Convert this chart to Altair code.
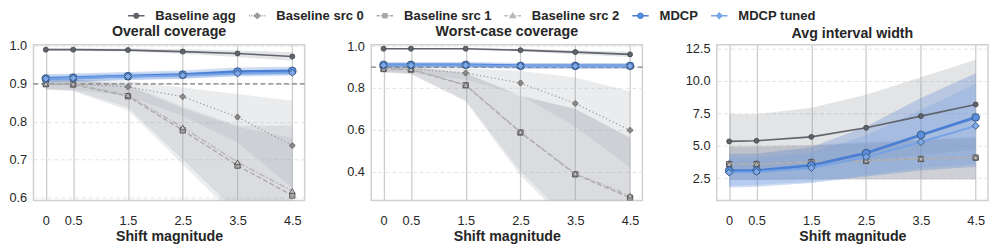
import altair as alt
import pandas as pd

# ---------------- data ----------------
X = [0, 0.5, 1.5, 2.5, 3.5, 4.5]
SERIES = ["Baseline agg", "Baseline src 0", "Baseline src 1", "Baseline src 2", "MDCP", "MDCP tuned"]
PANELS = ["Overall coverage", "Worst-case coverage", "Avg interval width"]
TARGET = [0.9]

overall_mean = {
    "Baseline agg":   [0.990, 0.990, 0.989, 0.985, 0.980, 0.972],
    "Baseline src 0": [0.900, 0.899, 0.892, 0.866, 0.812, 0.737],
    "Baseline src 1": [0.899, 0.898, 0.867, 0.777, 0.684, 0.605],
    "Baseline src 2": [0.900, 0.900, 0.870, 0.785, 0.693, 0.617],
    "MDCP":           [0.914, 0.916, 0.920, 0.924, 0.932, 0.934],
    "MDCP tuned":     [0.913, 0.915, 0.919, 0.922, 0.927, 0.929],
}
overall_lo = {
    "Baseline agg":   [0.987, 0.987, 0.985, 0.979, 0.971, 0.961],
    "Baseline src 0": [0.886, 0.884, 0.868, 0.815, 0.745, 0.625],
    "Baseline src 1": [0.884, 0.880, 0.830, 0.687, 0.545, 0.430],
    "Baseline src 2": [0.886, 0.882, 0.838, 0.700, 0.560, 0.450],
    "MDCP":           [0.903, 0.905, 0.909, 0.913, 0.921, 0.923],
    "MDCP tuned":     [0.905, 0.907, 0.911, 0.914, 0.919, 0.921],
}
overall_hi = {
    "Baseline agg":   [0.993, 0.993, 0.993, 0.991, 0.988, 0.983],
    "Baseline src 0": [0.912, 0.912, 0.906, 0.890, 0.873, 0.855],
    "Baseline src 1": [0.912, 0.912, 0.895, 0.835, 0.786, 0.757],
    "Baseline src 2": [0.913, 0.913, 0.898, 0.840, 0.790, 0.790],
    "MDCP":           [0.925, 0.927, 0.931, 0.935, 0.943, 0.945],
    "MDCP tuned":     [0.921, 0.923, 0.927, 0.930, 0.935, 0.937],
}

worst_mean = {
    "Baseline agg":   [0.988, 0.988, 0.988, 0.981, 0.972, 0.961],
    "Baseline src 0": [0.894, 0.891, 0.872, 0.824, 0.726, 0.598],
    "Baseline src 1": [0.891, 0.888, 0.813, 0.587, 0.387, 0.275],
    "Baseline src 2": [0.893, 0.890, 0.815, 0.590, 0.390, 0.285],
    "MDCP":           [0.911, 0.911, 0.911, 0.906, 0.906, 0.906],
    "MDCP tuned":     [0.909, 0.909, 0.909, 0.905, 0.905, 0.905],
}
worst_lo = {
    "Baseline agg":   [0.985, 0.985, 0.984, 0.975, 0.962, 0.948],
    "Baseline src 0": [0.878, 0.872, 0.840, 0.765, 0.615, 0.420],
    "Baseline src 1": [0.874, 0.866, 0.735, 0.380, 0.120, 0.000],
    "Baseline src 2": [0.876, 0.868, 0.740, 0.400, 0.140, 0.020],
    "MDCP":           [0.897, 0.897, 0.897, 0.892, 0.892, 0.892],
    "MDCP tuned":     [0.898, 0.898, 0.898, 0.894, 0.894, 0.894],
}
worst_hi = {
    "Baseline agg":   [0.991, 0.991, 0.992, 0.987, 0.981, 0.973],
    "Baseline src 0": [0.907, 0.905, 0.895, 0.882, 0.850, 0.785],
    "Baseline src 1": [0.905, 0.902, 0.870, 0.760, 0.700, 0.565],
    "Baseline src 2": [0.906, 0.903, 0.872, 0.765, 0.700, 0.560],
    "MDCP":           [0.925, 0.925, 0.925, 0.920, 0.920, 0.920],
    "MDCP tuned":     [0.920, 0.920, 0.920, 0.916, 0.916, 0.916],
}

width_mean = {
    "Baseline agg":   [5.35, 5.40, 5.70, 6.40, 7.30, 8.20],
    "Baseline src 0": [3.65, 3.65, 3.80, 3.90, 4.00, 4.10],
    "Baseline src 1": [3.60, 3.60, 3.75, 3.85, 4.00, 4.10],
    "Baseline src 2": [3.62, 3.62, 3.78, 3.88, 4.02, 4.12],
    "MDCP":           [3.10, 3.10, 3.50, 4.45, 5.85, 7.20],
    "MDCP tuned":     [2.95, 3.00, 3.30, 4.15, 5.30, 6.55],
}
width_lo = {
    "Baseline agg":   [3.20, 3.25, 3.50, 3.90, 4.30, 4.70],
    "Baseline src 0": [2.40, 2.40, 2.45, 2.45, 2.45, 2.45],
    "Baseline src 1": [2.35, 2.35, 2.40, 2.40, 2.40, 2.40],
    "Baseline src 2": [2.38, 2.38, 2.42, 2.42, 2.42, 2.42],
    "MDCP":           [1.80, 1.85, 2.15, 2.65, 3.10, 3.40],
    "MDCP tuned":     [1.95, 2.00, 2.25, 2.75, 3.30, 3.60],
}
width_hi = {
    "Baseline agg":   [7.45, 7.45, 7.95, 8.95, 10.30, 11.65],
    "Baseline src 0": [5.00, 5.00, 5.10, 5.30, 5.50, 5.70],
    "Baseline src 1": [4.90, 4.90, 5.00, 5.20, 5.40, 5.60],
    "Baseline src 2": [4.95, 4.95, 5.05, 5.25, 5.45, 5.65],
    "MDCP":           [4.40, 4.40, 4.90, 6.50, 8.70, 10.60],
    "MDCP tuned":     [4.10, 4.10, 4.50, 5.80, 7.80, 9.80],
}

PANEL_DATA = {
    "Overall coverage": (overall_mean, overall_lo, overall_hi),
    "Worst-case coverage": (worst_mean, worst_lo, worst_hi),
    "Avg interval width": (width_mean, width_lo, width_hi),
}
Y_TICKS = {
    "Overall coverage": [0.6, 0.7, 0.8, 0.9, 1.0],
    "Worst-case coverage": [0.4, 0.6, 0.8, 1.0],
    "Avg interval width": [2.5, 5.0, 7.5, 10.0, 12.5],
}

# ---------------- styles ----------------
FONT = "Liberation Sans"
TXT = "#262626"
Y_DOMAIN = {
    "Overall coverage": [0.592, 1.003],
    "Worst-case coverage": [0.262, 1.007],
    "Avg interval width": [0.8, 12.8],
}
X_DOMAIN = [-0.225, 4.725]
STYLE = {
    "Baseline agg":   dict(line="#60646c", dash=None, lw=1.7, shape="circle", size=26, fill="#5f636b", edge="#3f4247", band="#80858d", bop=0.22),
    "Baseline src 0": dict(line="#9a9a9a", dash=[1.2, 2.6], lw=1.3, shape="cross", size=26, fill="#8e8e8e", edge="#6a6a6a", band="#9ba0a8", bop=0.20),
    "Baseline src 1": dict(line="#a9a9a9", dash=[5, 2.5], lw=1.3, shape="square", size=30, fill="#a5a5a5", edge="#4a4a4a", band="#9ba0a8", bop=0.20),
    "Baseline src 2": dict(line="#b4b4b4", dash=[6, 2, 1.5, 2], lw=1.3, shape="triangle-up", size=30, fill="#c4c4c4", edge="#4a4a4a", band="#9ba0a8", bop=0.20),
    "MDCP":           dict(line="#4a7fd3", dash=None, lw=2.8, shape="circle", size=62, fill="#5b8fdb", edge="#2c4a72", band="#4a7fd3", bop=0.28),
    "MDCP tuned":     dict(line="#76a3e6", dash=None, lw=2.0, shape="diamond", size=52, fill="#7fa9e8", edge="#2c4a72", band="#6f9ee2", bop=0.25),
}
# legend glyphs: line segment (+ dash pattern) with the marker in the middle, box is [-1, 1]
LEGEND_PATH = {
    "Baseline agg": "M-1.2,0L-0.34,0M0.34,0L1.2,0M0.34,0A0.34,0.34 0 1,1 -0.34,0A0.34,0.34 0 1,1 0.34,0Z",
    "Baseline src 0": "M-1.2,0L-1.06,0M-0.86,0L-0.72,0M-0.54,0L-0.4,0M0.4,0L0.54,0M0.72,0L0.86,0M1.06,0L1.2,0"
                      "M-0.11,-0.34L0.11,-0.34L0.11,-0.11L0.34,-0.11L0.34,0.11L0.11,0.11L0.11,0.34L-0.11,0.34L-0.11,0.11L-0.34,0.11L-0.34,-0.11L-0.11,-0.11Z",
    "Baseline src 1": "M-1.2,0L-0.76,0M-0.58,0L-0.32,0M0.32,0L0.58,0M0.76,0L1.2,0M-0.28,-0.28L0.28,-0.28L0.28,0.28L-0.28,0.28Z",
    "Baseline src 2": "M-1.2,0L-0.8,0M-0.64,0L-0.57,0M-0.44,0L-0.34,0M0.34,0L0.44,0M0.57,0L0.64,0M0.8,0L1.2,0M0,-0.34L0.34,0.26L-0.34,0.26Z",
    "MDCP": "M-1.2,0L-0.38,0M0.38,0L1.2,0M0.38,0A0.38,0.38 0 1,1 -0.38,0A0.38,0.38 0 1,1 0.38,0Z",
    "MDCP tuned": "M-1.2,0L-0.38,0M0.38,0L1.2,0M0,-0.4L0.38,0L0,0.4L-0.38,0Z",
}

rows = []
for pname, (m, lo, hi) in PANEL_DATA.items():
    for s in SERIES:
        for i, xv in enumerate(X):
            rows.append(dict(panel=pname, series=s, x=xv, mean=m[s][i], lo=lo[s][i], hi=hi[s][i]))
df = pd.DataFrame(rows)
leg_df = pd.DataFrame({"series": SERIES})

x_enc = alt.X(
    "x:Q",
    scale=alt.Scale(domain=X_DOMAIN, nice=False, zero=False),
    axis=alt.Axis(values=X, title="Shift magnitude",
                  labelExpr="datum.value == 0 ? '0' : format(datum.value, '.1f')"),
)


def make_panel(pname, with_legend=False):
    d = df[df.panel == pname]
    ysc = alt.Scale(domain=Y_DOMAIN[pname], nice=False, zero=False)
    yax = alt.Axis(values=Y_TICKS[pname], format=".1f", title=None)
    layers = []
    for s in SERIES:
        st = STYLE[s]
        layers.append(
            alt.Chart(d[d.series == s]).mark_area(color=st["band"], opacity=st["bop"], clip=True)
            .encode(x=x_enc, y=alt.Y("lo:Q", scale=ysc, axis=yax), y2="hi:Q")
        )
    if pname != "Avg interval width":
        layers.append(
            alt.Chart(pd.DataFrame({"t": TARGET})).mark_rule(color="#7f7f7f", strokeDash=[5, 3], strokeWidth=1.3)
            .encode(y=alt.Y("t:Q", scale=ysc, axis=yax))
        )
    for s in SERIES:
        st = STYLE[s]
        sub = d[d.series == s]
        lkw = dict(color=st["line"], strokeWidth=st["lw"], clip=True)
        if st["dash"]:
            lkw["strokeDash"] = st["dash"]
        layers.append(alt.Chart(sub).mark_line(**lkw).encode(x=x_enc, y=alt.Y("mean:Q", scale=ysc, axis=yax)))
        layers.append(
            alt.Chart(sub).mark_point(shape=st["shape"], size=st["size"], filled=True, fill=st["fill"],
                                      stroke=st["edge"], strokeWidth=0.8, opacity=1, clip=True)
            .encode(x=x_enc, y=alt.Y("mean:Q", scale=ysc, axis=yax))
        )
    if with_legend:
        dom = SERIES
        layers.append(
            alt.Chart(leg_df).transform_filter("false").mark_point(opacity=1, strokeWidth=1.5)
            .encode(
                shape=alt.Shape("series:N", scale=alt.Scale(domain=dom, range=[LEGEND_PATH[s] for s in dom]),
                                legend=alt.Legend(title=None)),
                fill=alt.Fill("series:N", scale=alt.Scale(domain=dom, range=[STYLE[s]["fill"] for s in dom]),
                              legend=alt.Legend(title=None)),
                stroke=alt.Stroke("series:N", scale=alt.Scale(domain=dom, range=[STYLE[s]["line"] for s in dom]),
                                  legend=alt.Legend(title=None)),
            )
        )
    return alt.layer(*layers).properties(width=277, height=159, title=alt.TitleParams(pname, anchor="middle"))


chart = alt.hconcat(
    make_panel(PANELS[0], with_legend=True),
    make_panel(PANELS[1]),
    make_panel(PANELS[2]),
    spacing=40,
).properties(padding={"left": 0, "top": -3, "right": 0, "bottom": 0}).configure_view(
    stroke="#d0d0d0", strokeWidth=1.5
).configure_axis(
    labelFont=FONT, labelFontSize=13, labelColor=TXT, titleFont=FONT, titleFontSize=14.5,
    titleFontWeight="bold", titleColor=TXT, ticks=False, domain=False,
).configure_axisX(
    gridColor="#cccccc", gridWidth=1.3, labelPadding=15, titlePadding=2,
).configure_axisY(
    gridColor="#e2e2e2", gridDash=[4, 3], gridWidth=1, labelPadding=7, minExtent=25, maxExtent=25,
).configure_title(
    font=FONT, fontSize=14.5, fontWeight="bold", color=TXT, offset=1,
).configure_legend(
    orient="none", legendX=97, legendY=-38, direction="horizontal", columns=6, padding=0, offset=0,
    labelFont=FONT, labelFontSize=13.3, labelFontWeight="bold", labelColor=TXT,
    symbolSize=196, symbolStrokeWidth=1.5, labelOffset=11.5, columnPadding=9.5,
)

chart.save("out.html", embed_options={"renderer": "svg", "actions": False})
